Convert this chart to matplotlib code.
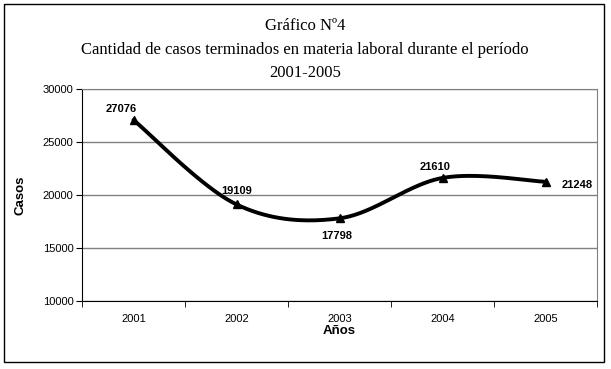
import numpy as np
import matplotlib
matplotlib.use("Agg")
import matplotlib.pyplot as plt
from matplotlib.patches import Rectangle

years = ["2001", "2002", "2003", "2004", "2005"]
casos = [27076, 19109, 17798, 21610, 21248]
label_offsets = [(-9, 8), (0, 10), (-2, -13), (-5, 8), (23, -2)]

TITLE = "Gráfico Nº4\nCantidad de casos terminados en materia laboral durante el período\n2001-2005"


def smooth_curve(x, y, steps=40):
    # Catmull-Rom style bezier, like a spreadsheet "smoothed line"
    pts = np.column_stack([x, y]).astype(float)
    n = len(pts)
    out = []
    for i in range(n - 1):
        p0 = pts[max(i - 1, 0)]
        p1 = pts[i]
        p2 = pts[i + 1]
        p3 = pts[min(i + 2, n - 1)]
        c1 = p1 + (p2 - p0) / 6
        c2 = p2 - (p3 - p1) / 6
        t = np.linspace(0, 1, steps)[:, None]
        seg = ((1 - t) ** 3) * p1 + 3 * ((1 - t) ** 2) * t * c1 \
            + 3 * (1 - t) * t ** 2 * c2 + t ** 3 * p2
        out.append(seg if i == 0 else seg[1:])
    seg = np.vstack(out)
    return seg[:, 0], seg[:, 1]


fig = plt.figure(figsize=(6.11, 3.69), dpi=100)
fig.patches.append(Rectangle((4 / 611, 7 / 369), 600 / 611, 358 / 369,
                             transform=fig.transFigure, fill=False,
                             edgecolor="black", linewidth=1))

ax = fig.add_axes([82 / 611, 68 / 369, 515 / 611, 212 / 369])
x = np.arange(len(years))
sx, sy = smooth_curve(x, casos)
ax.plot(sx, sy, color="black", linewidth=2.8, solid_capstyle="round")
ax.plot(x, casos, linestyle="none", marker="^", color="black", markersize=6)

for xi, val, (dx, dy) in zip(x, casos, label_offsets):
    ax.annotate(str(val), (xi, val), xytext=(dx, dy), textcoords="offset points",
                ha="center", va="center", fontsize=8, fontweight="bold",
                family="Liberation Sans")

ax.set_xlim(-0.5, len(years) - 0.5)
ax.set_ylim(10000, 30000)
ax.set_yticks([10000, 15000, 20000, 25000, 30000])
ax.set_xticks(x)
ax.set_xticklabels(years, family="Liberation Sans", fontsize=8)
ax.set_xticks(np.arange(len(years) + 1) - 0.5, minor=True)
ax.tick_params(axis="x", which="major", length=0, pad=9)
ax.tick_params(axis="x", which="minor", length=4, direction="out", color="black")
ax.tick_params(axis="y", length=4, direction="out", labelsize=8, pad=2)
for lab in ax.get_yticklabels():
    lab.set_family("Liberation Sans")

ax.grid(axis="y", color="#808080", linewidth=1)
ax.set_axisbelow(True)
for side in ["top", "right"]:
    ax.spines[side].set_color("#808080")
ax.spines["left"].set_color("black")
ax.spines["bottom"].set_color("black")

ax.set_ylabel("Casos", family="Liberation Sans", fontsize=9.5, fontweight="bold",
              labelpad=12)
ax.set_xlabel("Años", family="Liberation Sans", fontsize=9.5, fontweight="bold",
              labelpad=1)

fig.text(305 / 611, 1 - 49.5 / 369, TITLE, ha="center", va="center",
         family="Liberation Serif", fontsize=12, linespacing=1.6)

fig.savefig("out.png", dpi=100)
